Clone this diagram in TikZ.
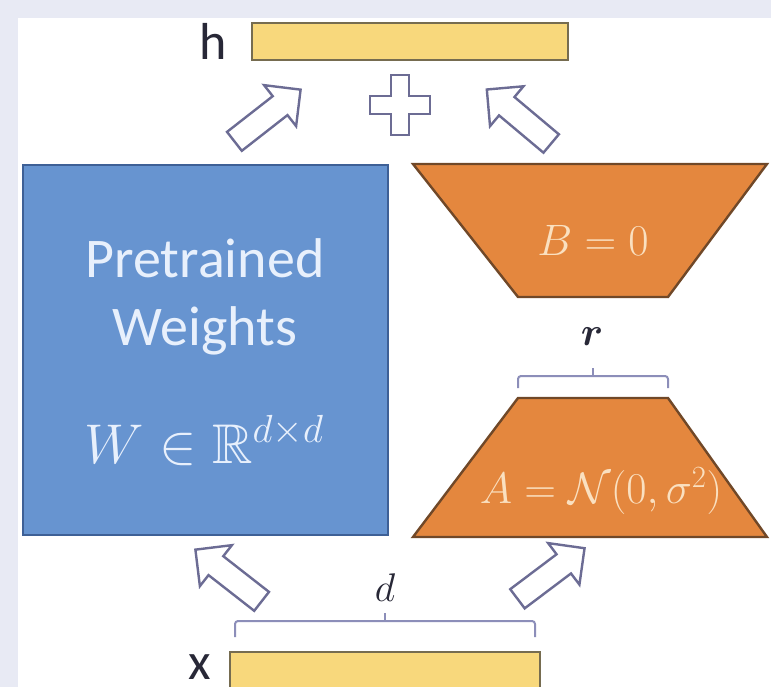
\RequirePackage{fix-cm}
\documentclass[tikz,border=0pt]{standalone}
\usepackage{amsmath,amssymb}
\usepackage{fontspec}
\setmainfont{Carlito}
\definecolor{bgl}{RGB}{232,234,244}
\definecolor{blueF}{RGB}{103,148,208}
\definecolor{blueD}{RGB}{62,96,150}
\definecolor{oraF}{RGB}{228,135,62}
\definecolor{oraD}{RGB}{112,72,40}
\definecolor{yelF}{RGB}{248,216,124}
\definecolor{yelD}{RGB}{118,108,80}
\definecolor{arrC}{RGB}{108,108,148}
\definecolor{wtxt}{RGB}{232,240,252}
\definecolor{otxt}{RGB}{250,224,192}
\definecolor{brk}{RGB}{140,142,185}
\definecolor{dtxt}{RGB}{40,40,55}
\tikzset{
  arrowline/.style={draw=arrC, fill=white, line width=2.4pt, line join=miter},
  ybar/.style={draw=yelD, fill=yelF, line width=2.2pt, inner sep=0pt},
  wbox/.style={draw=blueD, fill=blueF, line width=2.4pt, inner sep=0pt},
  trap/.style={draw=oraD, fill=oraF, line width=2.4pt, line join=miter},
  wtext/.style={text=wtxt, font=\fontsize{56}{60}\selectfont, inner sep=0pt},
  otext/.style={text=otxt, font=\fontsize{44}{48}\selectfont, inner sep=0pt},
  lbl/.style={text=dtxt, font=\fontsize{52}{56}\selectfont, inner sep=0pt},
  mlbl/.style={text=dtxt, font=\fontsize{40}{44}\selectfont, inner sep=0pt},
  bracebrk/.style={draw=brk, line width=2pt, rounded corners=3pt},
  blockarrow/.pic={\draw[arrowline] (-42,-12) -- (16,-12) -- (16,-26) -- (42,0) -- (16,26) -- (16,12) -- (-42,12) -- cycle;},
}
\begin{document}
\begin{tikzpicture}[x=1pt,y=-1pt]
\useasboundingbox (0,0) rectangle (771,687);
\fill[bgl] (0,0) rectangle (771,687);
\fill[white] (18,18) rectangle (771,687);

% output bar h
\node[ybar, minimum width=316pt, minimum height=37pt] (hbar) at (410,41.5) {};
\node[lbl] (hlbl) at (213,41) {h};

% input bar x
\node[ybar, minimum width=310pt, minimum height=37pt] (xbar) at (385,670.5) {};
\node[lbl] (xlbl) at (200,667) {x};

% pretrained weights
\node[wbox, minimum width=365pt, minimum height=370pt] (W) at (205.5,350) {};
\node[wtext, anchor=base] (t1) at (205,277) {Pretrained};
\node[wtext, anchor=base] (t2) at (205,345) {Weights};
\node[wtext, anchor=base] (t3) at (204,463) {$W \in \mathbb{R}^{d\times d}$};

% B trapezoid
\draw[trap] (413,164) -- (767,164) -- (668,297) -- (518,297) -- cycle;
\node[otext, anchor=base] (Blbl) at (593,255) {$B = 0$};

% A trapezoid
\draw[trap] (518,398) -- (668,398) -- (767,537) -- (413,537) -- cycle;
\node[otext, anchor=base] (Albl) at (601,503) {$A = \mathcal{N}(0,\sigma^2)$};

% r brace
\draw[bracebrk] (518,388) -- (518,376) -- (668,376) -- (668,388);
\draw[draw=brk, line width=2pt] (593,376) -- (593,368);
\node[mlbl] (rlbl) at (592,337) {$\boldsymbol{r}$};

% d brace
\draw[bracebrk] (235,637) -- (235,621) -- (535,621) -- (535,637);
\draw[draw=brk, line width=2pt] (385,621) -- (385,613);
\node[mlbl] (dlbl) at (385,588) {$d$};

% block arrows
\pic[rotate=38] at (267.5,115.5) {blockarrow};
\pic[rotate=140] at (519,116.5) {blockarrow};
\pic[rotate=142] at (228.5,575.5) {blockarrow};
\pic[rotate=37] at (551,573.5) {blockarrow};

% plus sign
\draw[arrowline] (391,75) -- (409,75) -- (409,96) -- (430,96) -- (430,114) -- (409,114) -- (409,135) -- (391,135) -- (391,114) -- (370,114) -- (370,96) -- (391,96) -- cycle;
\end{tikzpicture}
\end{document}
